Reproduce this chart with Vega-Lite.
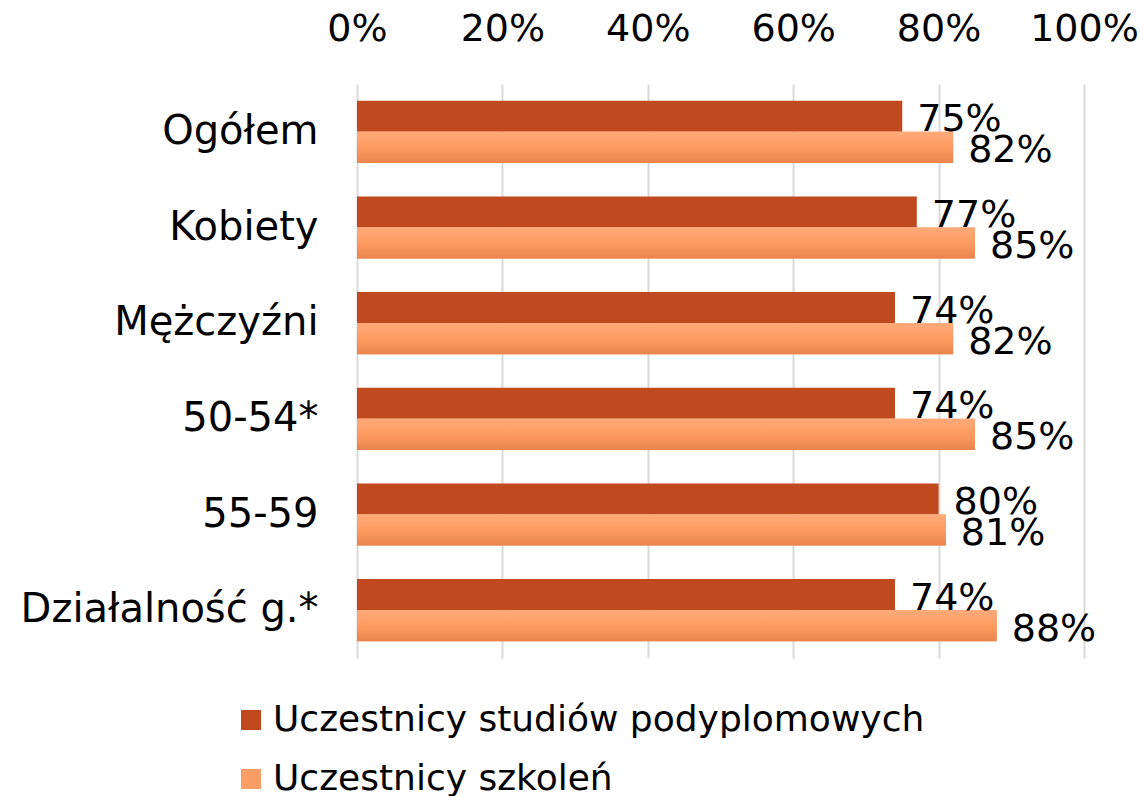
{
  "$schema": "https://vega.github.io/schema/vega-lite/v6.json",
  "width": 727,
  "height": 574,
  "padding": {"left": 0, "top": 0, "right": 0, "bottom": 0},
  "background": "white",
  "config": {
    "font": "DejaVu Sans",
    "view": {"stroke": null}
  },
  "data": {
    "values": [
      {"kategoria": "Ogółem", "seria": "Uczestnicy studiów podyplomowych", "wartosc": 0.75},
      {"kategoria": "Ogółem", "seria": "Uczestnicy szkoleń", "wartosc": 0.82},
      {"kategoria": "Kobiety", "seria": "Uczestnicy studiów podyplomowych", "wartosc": 0.77},
      {"kategoria": "Kobiety", "seria": "Uczestnicy szkoleń", "wartosc": 0.85},
      {"kategoria": "Mężczyźni", "seria": "Uczestnicy studiów podyplomowych", "wartosc": 0.74},
      {"kategoria": "Mężczyźni", "seria": "Uczestnicy szkoleń", "wartosc": 0.82},
      {"kategoria": "50-54*", "seria": "Uczestnicy studiów podyplomowych", "wartosc": 0.74},
      {"kategoria": "50-54*", "seria": "Uczestnicy szkoleń", "wartosc": 0.85},
      {"kategoria": "55-59", "seria": "Uczestnicy studiów podyplomowych", "wartosc": 0.80},
      {"kategoria": "55-59", "seria": "Uczestnicy szkoleń", "wartosc": 0.81},
      {"kategoria": "Działalność g.*", "seria": "Uczestnicy studiów podyplomowych", "wartosc": 0.74},
      {"kategoria": "Działalność g.*", "seria": "Uczestnicy szkoleń", "wartosc": 0.88}
    ]
  },
  "encoding": {
    "y": {
      "field": "kategoria", "type": "nominal", "sort": null,
      "scale": {"paddingInner": 0.35, "paddingOuter": 0.175},
      "axis": {
        "title": null, "ticks": false, "domain": false,
        "labelFontSize": 40, "labelColor": "#000000", "labelPadding": 39,
        "minExtent": 357, "maxExtent": 357, "labelLimit": 400
      }
    },
    "yOffset": {
      "field": "seria", "type": "nominal", "sort": null,
      "scale": {"paddingInner": 0, "paddingOuter": 0}
    },
    "x": {
      "field": "wartosc", "type": "quantitative",
      "scale": {"domain": [0, 1], "nice": false},
      "axis": {
        "orient": "top", "title": null, "format": ".0%", "values": [0, 0.2, 0.4, 0.6, 0.8, 1],
        "ticks": false, "domain": false, "grid": true, "gridColor": "#d9d9d9", "gridWidth": 2,
        "labelFontSize": 38, "labelColor": "#000000", "labelPadding": 36,
        "minExtent": 84, "maxExtent": 84, "labelFlush": false
      }
    }
  },
  "layer": [
    {
      "mark": {"type": "bar", "cornerRadius": 0},
      "encoding": {
        "color": {
          "field": "seria", "type": "nominal", "sort": null,
          "scale": {"range": ["#c0491f", "#fb9e66"]},
          "legend": {
            "title": null, "orient": "none", "direction": "vertical", "padding": 0,
            "legendX": -124, "legendY": 618,
            "symbolType": "square", "symbolSize": 400, "symbolStrokeWidth": 0,
            "labelFontSize": 36, "labelColor": "#000000", "labelOffset": 4,
            "rowPadding": 23, "labelLimit": 900
          }
        }
      }
    },
    {
      "transform": [{"filter": "datum.seria === 'Uczestnicy szkoleń'"}],
      "mark": {
        "type": "bar",
        "color": {
          "gradient": "linear", "x1": 0, "y1": 0, "x2": 0, "y2": 1,
          "stops": [
            {"offset": 0, "color": "#ffaa7a"},
            {"offset": 0.5, "color": "#fd9c60"},
            {"offset": 1, "color": "#e8844c"}
          ]
        }
      },
      "encoding": {}
    },
    {
      "mark": {"type": "text", "align": "left", "baseline": "middle", "dx": 15, "dy": 4, "fontSize": 38, "color": "#000000"},
      "encoding": {
        "text": {"field": "wartosc", "type": "quantitative", "format": ".0%"}
      }
    }
  ]
}
